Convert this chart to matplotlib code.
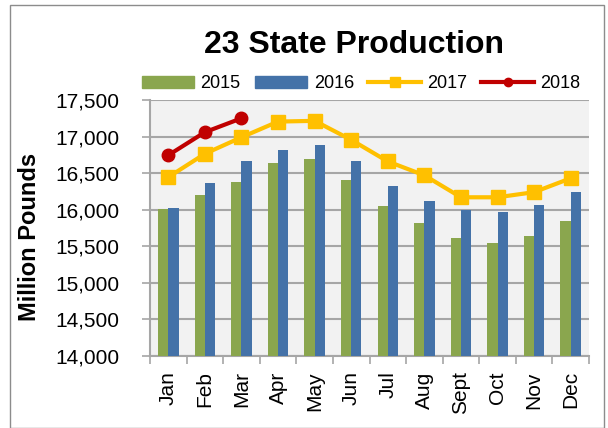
import numpy as np
import matplotlib.pyplot as plt
from matplotlib.patches import Rectangle, Patch
from matplotlib.lines import Line2D
from matplotlib.ticker import FuncFormatter

months = ["Jan", "Feb", "Mar", "Apr", "May", "Jun", "Jul", "Aug", "Sept", "Oct", "Nov", "Dec"]
prod_2015 = [16010, 16200, 16375, 16640, 16690, 16400, 16050, 15820, 15610, 15540, 15640, 15850]
prod_2016 = [16025, 16360, 16670, 16815, 16880, 16660, 16320, 16120, 15995, 15970, 16065, 16240]
prod_2017 = [16445, 16765, 16990, 17205, 17215, 16955, 16660, 16470, 16170, 16170, 16240, 16430]
prod_2018 = [16745, 17060, 17250]

GREEN = '#8AA64E'
BLUE = '#4472A8'
GOLD = '#FFC000'
RED = '#C00000'


def main():
    plt.rcParams['font.family'] = ['Liberation Sans', 'DejaVu Sans']
    fig = plt.figure(figsize=(6.08, 4.28), dpi=100)
    ax = fig.add_axes([150 / 608, 1 - 356 / 428, (589 - 150) / 608, (356 - 100) / 428])

    x = np.arange(len(months))
    w = 0.28
    ax.set_facecolor('#F2F2F2')
    ax.bar(x - w / 2, np.array(prod_2015) - 14000, w, bottom=14000, color=GREEN, zorder=3)
    ax.bar(x + w / 2, np.array(prod_2016) - 14000, w, bottom=14000, color=BLUE, zorder=3)
    ax.plot(x, prod_2017, color=GOLD, lw=3, marker='s', ms=10, zorder=4)
    ax.plot(x[:len(prod_2018)], prod_2018, color=RED, lw=3, marker='o', ms=9, zorder=5)

    ax.set_ylim(14000, 17500)
    ax.set_xlim(-0.5, len(months) - 0.5)
    ax.set_yticks(np.arange(14000, 17501, 500))
    ax.yaxis.set_major_formatter(FuncFormatter(lambda v, p: f"{int(v):,}"))
    ax.grid(axis='y', color='#A6A6A6', lw=1.5, zorder=1)
    ax.set_xticks(x)
    ax.set_xticklabels(months, rotation=90, fontsize=15)
    ax.set_xticks(np.arange(-0.5, len(months)), minor=True)
    ax.tick_params(axis='x', which='major', length=0, pad=11)
    ax.tick_params(axis='x', which='minor', length=6, color='#A6A6A6', width=1.2)
    ax.tick_params(axis='y', labelsize=15, length=6, color='#A6A6A6', width=1.2, pad=16)
    for s in ['top', 'right']:
        ax.spines[s].set_visible(False)
    for s in ['left', 'bottom']:
        ax.spines[s].set_color('#A6A6A6')
        ax.spines[s].set_linewidth(1.5)
    fig.text(30 / 608, 1 - 237 / 428, 'Million Pounds', rotation=90, ha='center', va='center',
             fontsize=17, fontweight='bold')

    fig.text(354 / 608, 1 - 45 / 428, '23 State Production', ha='center', va='center',
             fontsize=23, fontweight='bold')

    handles = [
        Patch(color=GREEN),
        Patch(color=BLUE),
        Line2D([], [], color=GOLD, lw=3, marker='s', ms=7),
        Line2D([], [], color=RED, lw=3, marker='o', ms=6),
    ]
    fig.legend(handles, ['2015', '2016', '2017', '2018'], loc='center',
               bbox_to_anchor=(361 / 608, 1 - 84 / 428), ncol=4, frameon=False,
               fontsize=13, handlelength=2.9, handleheight=0.6, columnspacing=0.8,
               handletextpad=0.35, borderaxespad=0, borderpad=0)

    fig.patches.append(Rectangle((10 / 608, 0.5 / 428), 594 / 608, 423 / 428, transform=fig.transFigure,
                                 fill=False, edgecolor='#8C8C8C', lw=1))
    fig.savefig('out.png', dpi=100)


if __name__ == "__main__":
    main()
